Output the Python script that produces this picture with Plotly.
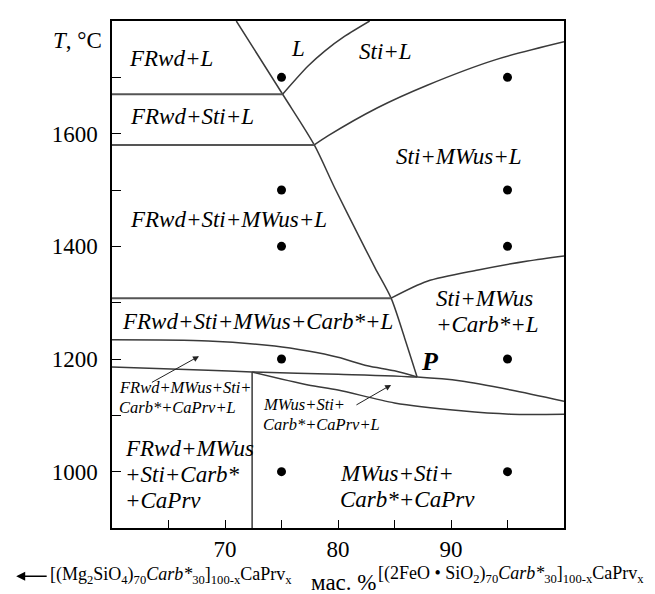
import plotly.graph_objects as go

# ---- data ----
steep_x = [71.0, 75.1, 77.9, 79.7, 81.8, 83.3, 84.7, 85.9, 87.0]
steep_y = [1800, 1670, 1580, 1504, 1420, 1361, 1308, 1237, 1168]

l_sti_x = [75.1, 77.35, 78.85, 80.6, 82.8]
l_sti_y = [1670, 1720, 1747, 1773, 1800]

sti_l_x = [77.9, 79.1, 83.5, 87.9, 93.9, 100]
sti_l_y = [1580, 1596, 1646, 1686, 1731, 1763]

carb_x = [84.7, 87.9, 92.4, 96.8, 100]
carb_y = [1308, 1338, 1358, 1374, 1383]

h1_x = [60, 75.1]; h1_y = [1670, 1670]
h2_x = [60, 77.9]; h2_y = [1580, 1580]
h3_x = [60, 84.7]; h3_y = [1308, 1308]

curveA_x = [60, 68.5, 74.4, 77.35, 80.0, 82.6, 85.0, 87.0]
curveA_y = [1234, 1232, 1223, 1214, 1203, 1188, 1179, 1168]

curveB_x = [60, 68.5, 72.4, 80.0, 87.0, 90.9, 95.3, 100]
curveB_y = [1186, 1180, 1177, 1173, 1168, 1161, 1145, 1125]

curveC_x = [72.4, 77.35, 80.0, 85.0, 90.9, 95.3, 100]
curveC_y = [1177, 1154, 1145, 1122, 1108, 1102, 1102]

vert_x = [72.4, 72.4]
vert_y = [1177, 900]

dots_x = [75, 75, 75, 75, 75, 95, 95, 95, 95, 95]
dots_y = [1700, 1500, 1400, 1200, 1000, 1700, 1500, 1400, 1200, 1000]

x_tickvals = [65, 70, 75, 80, 85, 90, 95]
x_ticktext = ["", "70", "", "80", "", "90", ""]
y_tickvals = [1000, 1100, 1200, 1300, 1400, 1500, 1600, 1700]
y_ticktext = ["1000", "", "1200", "", "1400", "", "1600", ""]

# phase labels: (text lines, x, y of first line)
big_labels = [
    (["FRwd+L"], 61.3, 1734),
    (["FRwd+Sti+L"], 61.4, 1630),
    (["FRwd+Sti+MWus+L"], 61.4, 1447),
    (["FRwd+Sti+MWus+Carb*+L"], 60.75, 1267),
    (["Sti+MWus", "+Carb*+L"], 88.5, 1307),
    (["FRwd+MWus", "+Sti+Carb*", "+CaPrv"], 61.0, 1042),
    (["MWus+Sti+", "Carb*+CaPrv"], 80.0, 997),
]
center_labels = [
    ("Sti+MWus+L", 90.75, 1559),
    ("Sti+L", 84.2, 1745),
    ("L", 76.5, 1752),
]
small_labels = [
    (["FRwd+MWus+Sti+", "Carb*+CaPrv+L"], 60.4, 1149),
    (["MWus+Sti+", "Carb*+CaPrv+L"], 73.2, 1119),
]
arrows = [  # tail x, tail y, tip x, tip y
    (63.4, 1157, 67.7, 1205),
    (81.5, 1117, 84.7, 1154),
]

SERIF = "Liberation Serif"
LINE = "#3a3a3a"

fig = go.Figure()

def add_line(xs, ys, w=1.5, c=LINE, shape="spline"):
    fig.add_trace(go.Scatter(x=xs, y=ys, mode="lines",
                             line=dict(color=c, width=w, shape=shape, smoothing=0.8),
                             hoverinfo="skip", showlegend=False))

add_line(steep_x, steep_y)
add_line(l_sti_x, l_sti_y)
add_line(sti_l_x, sti_l_y)
add_line(carb_x, carb_y)
for hx, hy in [(h1_x, h1_y), (h2_x, h2_y), (h3_x, h3_y)]:
    add_line(hx, hy, w=2, c="#555555", shape="linear")
add_line(curveA_x, curveA_y)
add_line(curveB_x, curveB_y)
add_line(curveC_x, curveC_y)
add_line(vert_x, vert_y, shape="linear")

fig.add_trace(go.Scatter(x=dots_x, y=dots_y, mode="markers",
                         marker=dict(color="black", size=9),
                         hoverinfo="skip", showlegend=False))

def ann(text, x, y, size, xanchor="left", xref="x", yref="y", **kw):
    fig.add_annotation(text=text, x=x, y=y, xref=xref, yref=yref,
                       showarrow=False, xanchor=xanchor, yanchor="middle",
                       font=dict(family=SERIF, size=size, color="black"), **kw)

BIG = 23
SMALL = 16.5
PX_PER_T = 507 / 900.0
for lines, x, y in big_labels:
    for i, t in enumerate(lines):
        ann("<i>%s</i>" % t, x, y - i * 26 / PX_PER_T, BIG)
for t, x, y in center_labels:
    ann("<i>%s</i>" % t, x, y, BIG, xanchor="center")
for lines, x, y in small_labels:
    for i, t in enumerate(lines):
        ann("<i>%s</i>" % t, x, y - i * 20 / PX_PER_T, SMALL)

ann("<b><i>P</i></b>", 88.1, 1196, 26, xanchor="center")

for tx, ty, hx, hy in arrows:
    fig.add_annotation(x=hx, y=hy, ax=tx, ay=ty, xref="x", yref="y",
                       axref="x", ayref="y", text="", showarrow=True,
                       arrowhead=2, arrowsize=1.2, arrowwidth=1, arrowcolor="#222")

# axis titles / footnotes
ann("<i>T</i>, °C", -0.135, 0.9625, BIG, xref="paper", yref="paper")
ann("мас. %", 0.512, -0.108, BIG, xanchor="center", xref="paper", yref="paper")
ann("[(Mg<sub>2</sub>SiO<sub>4</sub>)<sub>70</sub><i>Carb*</i><sub>30</sub>]<sub>100-x</sub>CaPrv<sub>x</sub>",
    -0.141, -0.093, 18, xref="paper", yref="paper")
ann("[(2FeO • SiO<sub>2</sub>)<sub>70</sub><i>Carb*</i><sub>30</sub>]<sub>100-x</sub>CaPrv<sub>x</sub>",
    0.585, -0.091, 18, xref="paper", yref="paper")
fig.add_annotation(x=-0.212, y=-0.095, ax=32, ay=0, xref="paper", yref="paper",
                   axref="pixel", ayref="pixel", text="", showarrow=True,
                   arrowhead=2, arrowsize=1.2, arrowwidth=1.5, arrowcolor="black")

fig.update_layout(
    width=655, height=594,
    margin=dict(l=104, r=99, t=13, b=74),
    paper_bgcolor="white", plot_bgcolor="white",
    showlegend=False,
    font=dict(family=SERIF, size=BIG, color="black"),
)
fig.update_xaxes(range=[60, 100], tickvals=x_tickvals, ticktext=x_ticktext,
                 ticks="inside", ticklen=8, tickcolor="black", tickwidth=1,
                 showline=True, linecolor="black", linewidth=1.5, mirror=True,
                 showgrid=False, zeroline=False, ticklabelstandoff=0,
                 tickfont=dict(family=SERIF, size=BIG))
fig.update_yaxes(range=[900, 1800], tickvals=y_tickvals, ticktext=y_ticktext,
                 ticks="inside", ticklen=9, tickcolor="black", tickwidth=1,
                 showline=True, linecolor="black", linewidth=1.5, mirror=True,
                 showgrid=False, zeroline=False, ticklabelstandoff=8,
                 tickfont=dict(family=SERIF, size=BIG))

fig.write_html("out.html")
